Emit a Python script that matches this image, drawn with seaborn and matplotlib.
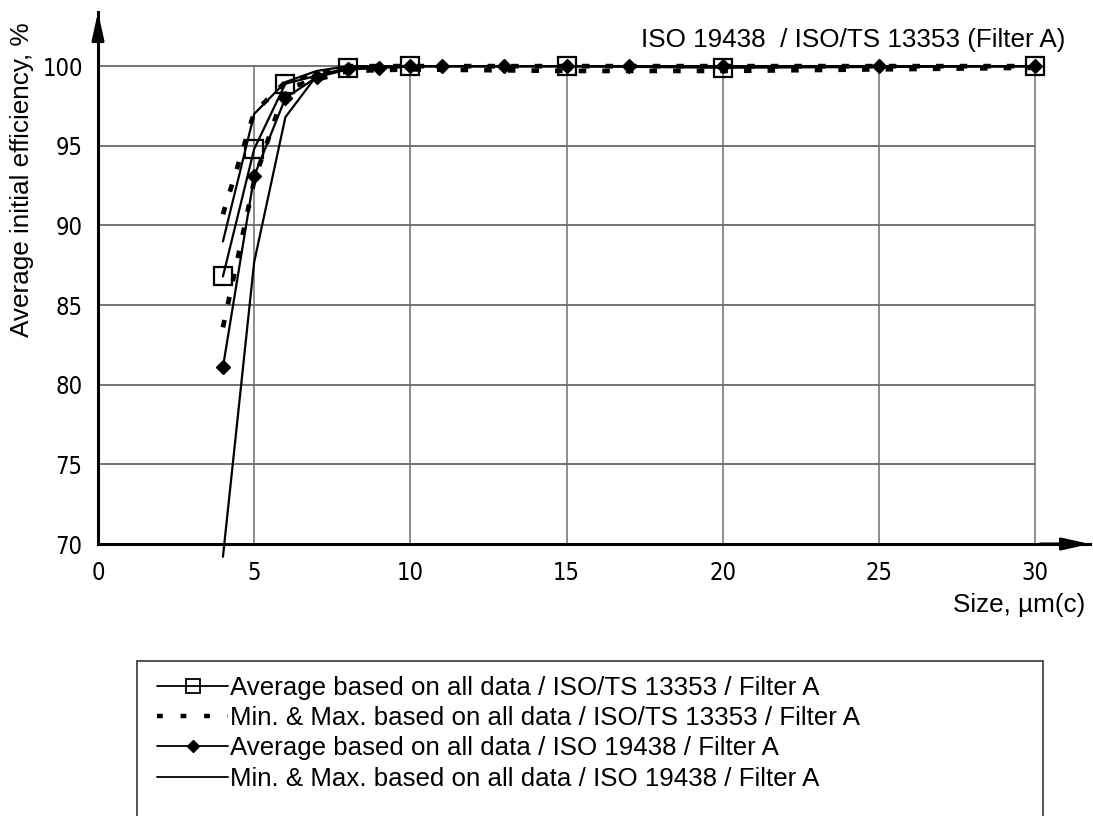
import matplotlib
matplotlib.use("Agg")
import matplotlib.pyplot as plt
import pandas as pd
import seaborn as sns
from matplotlib.lines import Line2D
from matplotlib.patches import Rectangle

# ISO/TS 13353 test points (particle size, µm(c)) and efficiencies, %
size_ts = [4, 5, 6, 8, 10, 15, 20, 30]
avg_ts = [86.8, 94.8, 98.9, 99.9, 100.0, 100.0, 99.9, 100.0]
min_ts = [83.6, 92.8, 98.6, 99.7, 99.8, 99.7, 99.7, 99.9]
max_ts = [90.7, 97.1, 99.0, 100.0, 100.0, 100.0, 100.0, 100.0]

# ISO 19438 test points and efficiencies, %
size_iso = [4, 5, 6, 7, 8, 9, 10, 11, 13, 15, 17, 20, 25, 30]
avg_iso = [81.1, 93.1, 98.0, 99.3, 99.8, 99.9, 100.0, 100.0, 100.0, 100.0, 100.0, 100.0, 100.0, 100.0]
min_iso = [69.2, 87.7, 96.8, 99.4, 99.8, 99.9, 100.0, 100.0, 100.0, 100.0, 100.0, 100.0, 100.0, 100.0]
max_iso = [89.0, 97.0, 99.0, 99.7, 100.0, 100.0, 100.0, 100.0, 100.0, 100.0, 100.0, 100.0, 100.0, 100.0]

x_ticks = [0, 5, 10, 15, 20, 25, 30]
y_ticks = [70, 75, 80, 85, 90, 95, 100]

labels = [
    "Average based on all data / ISO/TS 13353 / Filter A",
    "Min. & Max. based on all data / ISO/TS 13353 / Filter A",
    "Average based on all data / ISO 19438 / Filter A",
    "Min. & Max. based on all data / ISO 19438 / Filter A",
]
title = "ISO 19438  / ISO/TS 13353 (Filter A)"
x_label = "Size, µm(c)"
y_label = "Average initial efficiency, %"

sns.set_style("white")
plt.rcParams["font.family"] = ["Liberation Sans", "DejaVu Sans"]
plt.rcParams["text.color"] = "black"
plt.rcParams["xtick.color"] = "black"
plt.rcParams["ytick.color"] = "black"

W, H = 1093, 816
fig = plt.figure(figsize=(W / 100, H / 100), dpi=100)
ax = fig.add_axes([98 / W, (H - 544) / H, (1090 - 98) / W, (544 - 12) / H])
ax.set_xlim(0, 31.76)
ax.set_ylim(70, 103.4)

# grid limited to the data range
ax.hlines(y_ticks[1:], x_ticks[0], x_ticks[-1], colors="#4d4d4d", lw=1.1, zorder=1)
ax.vlines(x_ticks[1:], y_ticks[0], y_ticks[-1], colors="#6e6e6e", lw=1.1, zorder=1)

dash = (0, (1.6, 3.4))
common = dict(ax=ax, estimator=None, sort=False, color="black")

df_ts = pd.DataFrame({"size": size_ts, "avg": avg_ts, "min": min_ts, "max": max_ts})
df_iso = pd.DataFrame({"size": size_iso, "avg": avg_iso, "min": min_iso, "max": max_iso})

for col in ("min", "max"):
    sns.lineplot(data=df_ts, x="size", y=col, lw=3.4, linestyle=dash,
                 zorder=3, **common)
    sns.lineplot(data=df_iso, x="size", y=col, lw=1.6, zorder=3, **common)

sns.lineplot(data=df_ts, x="size", y="avg", lw=1.6, marker="s", markersize=13.5,
             markerfacecolor="none", markeredgecolor="black", markeredgewidth=1.6,
             zorder=4, **common)
sns.lineplot(data=df_iso, x="size", y="avg", lw=1.6, marker="D", markersize=7.5,
             markerfacecolor="black", markeredgecolor="black", markeredgewidth=1,
             zorder=5, **common)
for ln in ax.lines:
    ln.set_clip_on(False)

# axes with arrow heads
for s in ("top", "right"):
    ax.spines[s].set_visible(False)
for s in ("left", "bottom"):
    ax.spines[s].set_linewidth(2.2)
    ax.spines[s].set_color("black")
arrow = dict(arrowstyle="-|>,head_length=0.9,head_width=0.2", color="black",
             lw=2.2, mutation_scale=18, shrinkA=0, shrinkB=0)
ax.annotate("", xy=(1, 0), xytext=(0.95, 0), xycoords="axes fraction", arrowprops=arrow)
ax.annotate("", xy=(0, 1), xytext=(0, 0.95), xycoords="axes fraction", arrowprops=arrow)

tick_font = dict(fontfamily="DejaVu Sans", fontstretch="condensed", fontsize=17,
                 color="black")
ax.set_xticks(x_ticks)
ax.set_yticks(y_ticks)
ax.set_xticklabels([str(v) for v in x_ticks], **tick_font)
ax.set_yticklabels([str(v) for v in y_ticks], **tick_font)
ax.tick_params(axis="x", length=0, pad=12)
ax.tick_params(axis="y", length=0, pad=11)
ax.set_xlabel("")
ax.set_ylabel("")

fig.text(22 / W, 1 - 180 / H, y_label, rotation=90, ha="center", va="center",
         fontsize=18.8, color="black")
fig.text(1085 / W, 1 - 605 / H, x_label, ha="right", va="center", fontsize=18.8,
         color="black")
fig.text(1065 / W, 1 - 40 / H, title, ha="right", va="center", fontsize=18.8,
         color="black")

# legend
handles = [
    Line2D([], [], color="black", lw=1.3, marker="s", markersize=10,
           markerfacecolor="none", markeredgewidth=1.3),
    Line2D([], [], color="black", lw=3.2, linestyle=(0, (1.3, 4.0))),
    Line2D([], [], color="black", lw=1.3, marker="D", markersize=6),
    Line2D([], [], color="black", lw=1.3),
]
leg = fig.legend(handles, labels, loc="upper left", bbox_to_anchor=(157 / W, 1 - 676 / H),
                 frameon=False, prop={"family": "Liberation Sans", "size": 18.6},
                 handlelength=2.75, handletextpad=0.08, labelspacing=0.24,
                 borderaxespad=0, borderpad=0)
for t in leg.get_texts():
    t.set_color("black")
fig.patches.append(Rectangle((137 / W, 1 - 840 / H), (1043 - 137) / W, (840 - 661) / H,
                             transform=fig.transFigure, fill=False, lw=1.3,
                             edgecolor="#444444"))

fig.savefig("out.png", dpi=100)
